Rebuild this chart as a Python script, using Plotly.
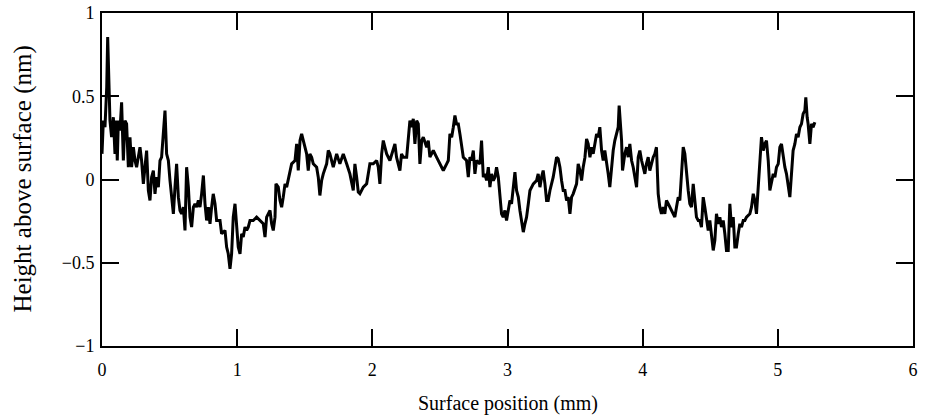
import plotly.graph_objects as go

position_mm = [
    0.000, 0.005, 0.010, 0.022, 0.035, 0.042, 0.052, 0.059, 0.071, 0.084, 0.096, 0.104, 0.113, 0.121, 0.133, 0.145,
    0.158, 0.170, 0.182, 0.195, 0.207, 0.219, 0.232, 0.244, 0.256, 0.269, 0.281, 0.293, 0.306, 0.318, 0.330, 0.343,
    0.355, 0.367, 0.380, 0.392, 0.404, 0.417, 0.429, 0.441, 0.454, 0.466, 0.478, 0.491, 0.503, 0.515, 0.528, 0.540,
    0.552, 0.565, 0.577, 0.589, 0.602, 0.614, 0.626, 0.639, 0.651, 0.663, 0.676, 0.688, 0.700, 0.713, 0.725, 0.737,
    0.750, 0.762, 0.774, 0.787, 0.799, 0.811, 0.823, 0.836, 0.848, 0.873, 0.885,
    0.910, 0.922, 0.934, 0.947, 0.959, 0.971, 0.984, 0.996, 1.008, 1.021, 1.033, 1.045, 1.058, 1.070, 1.082, 1.095,
    1.119, 1.144, 1.169, 1.193, 1.206, 1.218, 1.243, 1.255, 1.267, 1.280, 1.287, 1.304, 1.317, 1.329, 1.341, 1.354,
    1.366, 1.391, 1.403, 1.428, 1.440, 1.452, 1.465, 1.477, 1.489, 1.514, 1.526, 1.538, 1.551, 1.563, 1.588, 1.600,
    1.612, 1.625, 1.637, 1.662, 1.674, 1.686, 1.711, 1.736, 1.760, 1.785, 1.810, 1.834,
    1.859, 1.871, 1.884, 1.896, 1.908, 1.933, 1.958, 1.982, 2.007, 2.032, 2.044, 2.056, 2.069, 2.081, 2.093, 2.106,
    2.130, 2.155, 2.167, 2.179, 2.204, 2.216, 2.229, 2.254, 2.266, 2.278, 2.291, 2.303, 2.315, 2.328, 2.340, 2.352,
    2.365, 2.377, 2.402, 2.414, 2.426, 2.451, 2.475, 2.500, 2.525, 2.550, 2.562, 2.574, 2.587, 2.599, 2.611, 2.623,
    2.636, 2.648, 2.660, 2.673, 2.697, 2.710, 2.722, 2.734, 2.747, 2.759, 2.771, 2.796, 2.808, 2.821, 2.833, 2.845,
    2.858, 2.870, 2.882, 2.895, 2.907, 2.919, 2.932, 2.944, 2.956, 2.968, 2.981, 2.993, 3.006, 3.018, 3.030, 3.043,
    3.055, 3.067, 3.080, 3.092, 3.104, 3.117, 3.129, 3.141, 3.154, 3.166, 3.191, 3.215, 3.227, 3.240, 3.252, 3.264,
    3.277, 3.289, 3.301, 3.314, 3.338, 3.351, 3.363, 3.375, 3.388, 3.400, 3.412, 3.425, 3.437, 3.449, 3.462, 3.474,
    3.486, 3.511,
    3.523, 3.536, 3.548, 3.560, 3.573, 3.585, 3.597, 3.610, 3.622, 3.634, 3.646, 3.659, 3.671, 3.683, 3.696, 3.708,
    3.720, 3.733, 3.745, 3.757, 3.770, 3.782, 3.794, 3.807, 3.819, 3.826, 3.836, 3.844, 3.851, 3.868, 3.881, 3.893,
    3.905, 3.918, 3.930, 3.942, 3.955, 3.967, 3.979, 3.992, 4.004, 4.016, 4.028, 4.041, 4.053, 4.065, 4.078, 4.090,
    4.102, 4.115, 4.127, 4.139, 4.152, 4.164, 4.176, 4.189, 4.201, 4.213, 4.226, 4.238, 4.250, 4.263, 4.275, 4.287,
    4.300, 4.312, 4.324, 4.337, 4.349, 4.361, 4.374, 4.386, 4.398, 4.411, 4.423, 4.435, 4.448, 4.460, 4.472, 4.485,
    4.497, 4.509, 4.522, 4.534, 4.546, 4.559, 4.571, 4.583, 4.596, 4.608, 4.620, 4.633, 4.645, 4.657, 4.670, 4.682,
    4.694, 4.707, 4.719, 4.731, 4.744, 4.756, 4.768, 4.793, 4.805, 4.818, 4.830, 4.842, 4.855, 4.867, 4.879, 4.892,
    4.904, 4.916, 4.929, 4.941, 4.953, 4.966, 4.978, 4.990, 5.003, 5.015, 5.027, 5.039, 5.052, 5.064, 5.076, 5.089,
    5.101, 5.113, 5.126, 5.138, 5.150, 5.163, 5.175, 5.187, 5.200, 5.207, 5.217, 5.224, 5.237, 5.249, 5.261, 5.274,
]

height_nm = [
    0.154, 0.294, 0.354, 0.314, 0.555, 0.855, 0.555, 0.354, 0.254, 0.374, 0.154, 0.354, 0.114, 0.354, 0.294, 0.464,
    0.114, 0.354, 0.334, 0.074, 0.254, 0.074, 0.194, 0.114, 0.074, 0.154, 0.194, 0.114, -0.026, 0.074, 0.174, -0.066,
    -0.126, 0.014, 0.054, -0.086, 0.014, -0.046, 0.114, 0.134, 0.254, 0.414, 0.154, 0.114, -0.006, -0.086, -0.206, -0.046,
    0.094, -0.106, -0.186, -0.206, -0.166, -0.306, 0.074, -0.046, -0.226, -0.286, -0.166, -0.146, -0.166, -0.126, -0.166, -0.086,
    0.024, -0.146, -0.246, -0.166, -0.266, -0.166, -0.086, -0.146, -0.246, -0.246, -0.326,
    -0.306, -0.406, -0.446, -0.537, -0.446, -0.226, -0.146, -0.286, -0.406, -0.446, -0.326, -0.346, -0.286, -0.306, -0.286, -0.246,
    -0.246, -0.226, -0.246, -0.266, -0.346, -0.226, -0.186, -0.266, -0.306, -0.226, -0.026, -0.046, -0.126, -0.166, -0.106, -0.026,
    -0.046, 0.054, 0.094, 0.114, 0.214, 0.054, 0.234, 0.274, 0.234, 0.154, 0.054, 0.154, 0.134, 0.094, 0.074, 0.014,
    -0.096, -0.006, 0.034, 0.094, 0.174, 0.154, 0.074, 0.154, 0.094, 0.154, 0.094, 0.034,
    -0.066, 0.094, 0.014, -0.076, -0.086, -0.046, -0.026, 0.094, 0.094, 0.114, 0.074, -0.026, 0.154, 0.234, 0.194, 0.154,
    0.114, 0.174, 0.214, 0.134, 0.054, 0.154, 0.134, 0.134, 0.274, 0.354, 0.314, 0.364, 0.214, 0.354, 0.334, 0.094,
    0.234, 0.254, 0.194, 0.234, 0.134, 0.174, 0.134, 0.094, 0.054, 0.094, 0.114, 0.274, 0.254, 0.314, 0.384, 0.334,
    0.334, 0.274, 0.194, 0.134, 0.114, 0.014, 0.134, 0.114, 0.174, 0.034, 0.114, 0.094, 0.234, 0.014, 0.034, -0.006,
    0.074, -0.046, 0.034, -0.006, 0.014, 0.074, 0.014, -0.086, -0.206, -0.226, -0.186, -0.246, -0.166, -0.126, -0.146, -0.046,
    0.044, -0.066, -0.106, -0.186, -0.246, -0.316, -0.266, -0.226, -0.146, -0.066, -0.026, -0.006, 0.034, -0.046, 0.014, 0.054,
    -0.026, -0.126, -0.126, -0.066, 0.014, 0.094, 0.134, 0.124, 0.074, -0.006, -0.066, -0.066, -0.126, -0.106, -0.206, -0.106,
    -0.086, -0.026,
    0.094, 0.054, -0.006, 0.074, 0.134, 0.244, 0.214, 0.134, 0.194, 0.154, 0.214, 0.274, 0.254, 0.314, 0.174, 0.114,
    0.174, 0.114, 0.034, -0.046, 0.074, 0.174, 0.234, 0.274, 0.314, 0.444, 0.314, 0.234, 0.054, 0.154, 0.194, 0.134,
    0.214, 0.114, 0.074, 0.014, -0.046, 0.134, 0.174, 0.114, 0.074, 0.034, 0.094, 0.134, 0.054, 0.094, 0.134, 0.154,
    0.194, -0.086, -0.166, -0.206, -0.166, -0.206, -0.126, -0.146, -0.166, -0.186, -0.206, -0.226, -0.166, -0.106, -0.126, 0.014,
    0.194, 0.154, 0.034, -0.066, -0.146, -0.166, -0.026, -0.146, -0.226, -0.246, -0.246, -0.286, -0.106, -0.166, -0.226, -0.306,
    -0.246, -0.346, -0.426, -0.366, -0.206, -0.266, -0.226, -0.286, -0.246, -0.326, -0.426, -0.426, -0.146, -0.286, -0.226, -0.406,
    -0.406, -0.326, -0.266, -0.286, -0.246, -0.246, -0.226, -0.206, -0.166, -0.086, -0.126, -0.206, -0.046, 0.114, 0.254, 0.174,
    0.214, 0.234, 0.114, -0.066, -0.026, 0.034, 0.014, 0.074, 0.094, 0.194, 0.214, 0.134, 0.074, 0.034, -0.046, -0.106,
    0.034, 0.174, 0.214, 0.274, 0.254, 0.314, 0.334, 0.394, 0.414, 0.494, 0.374, 0.334, 0.214, 0.334, 0.314, 0.344,
]

x_tick_vals = [0, 1, 2, 3, 4, 5, 6]
x_tick_text = ["0", "1", "2", "3", "4", "5", "6"]
y_tick_vals = [-1, -0.5, 0, 0.5, 1]
y_tick_text = ["\u22121", "\u22120.5", "0", "0.5", "1"]
x_title = "Surface position (mm)"
y_title = "Height above surface (nm)"

font_family = "Liberation Serif, Times New Roman, serif"

fig = go.Figure()
fig.add_trace(go.Scatter(
    x=position_mm, y=height_nm, mode="lines",
    line=dict(color="black", width=3),
    showlegend=False, hoverinfo="skip",
))

axis_common = dict(
    showgrid=False, zeroline=False, showline=True, linecolor="black", linewidth=2,
    mirror="allticks", ticks="inside", ticklen=17, tickwidth=2, tickcolor="black",
    automargin=False,
    tickfont=dict(family=font_family, size=18, color="black"),
)

fig.update_layout(
    template="none",
    width=926, height=416,
    margin=dict(l=102, r=13, t=13, b=70, pad=0),
    paper_bgcolor="white", plot_bgcolor="white",
    xaxis=dict(range=[0, 6], tickvals=x_tick_vals, ticktext=x_tick_text,
               ticklabelstandoff=6, **axis_common),
    yaxis=dict(range=[-1, 1], tickvals=y_tick_vals, ticktext=y_tick_text,
               ticklabelstandoff=2, **axis_common),
    annotations=[
        dict(text=x_title, xref="paper", yref="paper", x=0.5, y=0, xanchor="center", yanchor="middle",
             yshift=-57, showarrow=False, font=dict(family=font_family, size=20, color="black")),
        dict(text=y_title, xref="paper", yref="paper", x=0, y=0.5, xanchor="center", yanchor="middle",
             xshift=-80, textangle=-90, showarrow=False, font=dict(family=font_family, size=25, color="black")),
    ],
)

fig.write_html("out.html")
